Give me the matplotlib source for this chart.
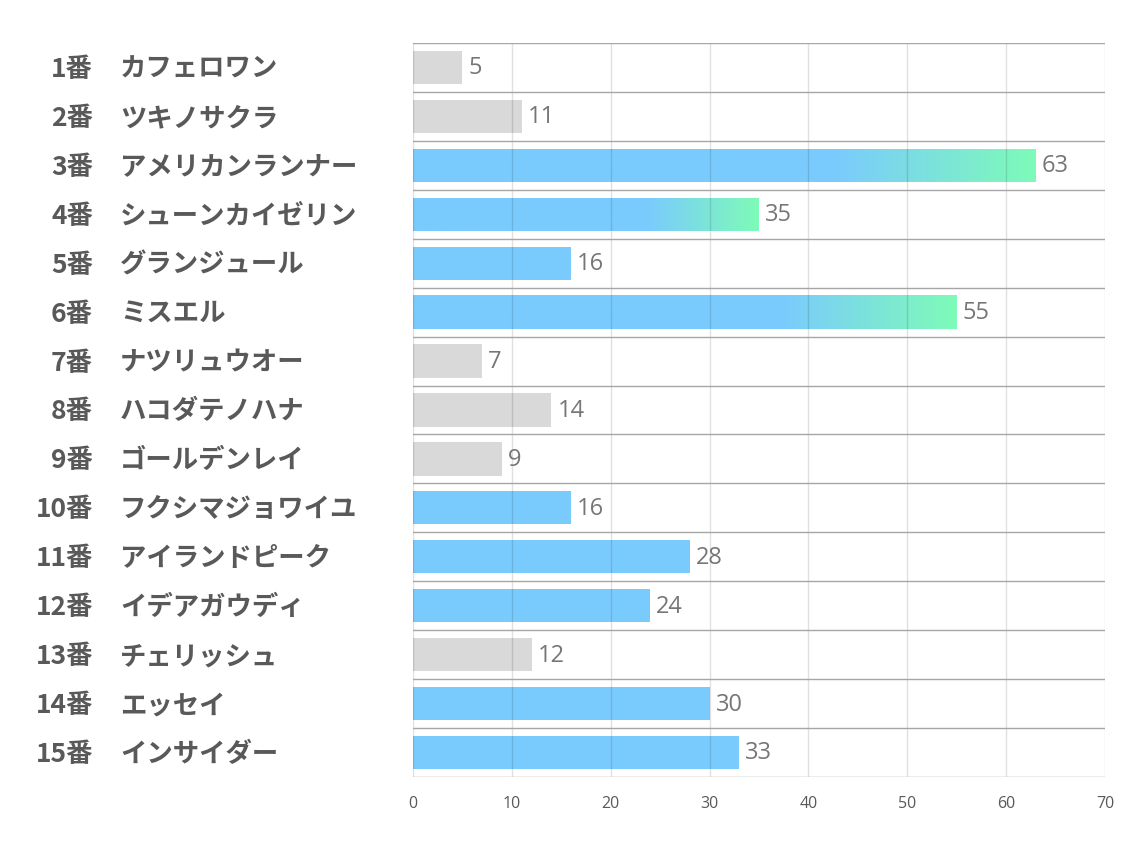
import matplotlib
matplotlib.use("Agg")
import matplotlib.pyplot as plt
import numpy as np
from matplotlib.colors import to_rgb

numbers = ["1番", "2番", "3番", "4番", "5番", "6番", "7番", "8番", "9番", "10番",
           "11番", "12番", "13番", "14番", "15番"]
names = ["カフェロワン", "ツキノサクラ", "アメリカンランナー", "シューンカイゼリン", "グランジュール",
         "ミスエル", "ナツリュウオー", "ハコダテノハナ", "ゴールデンレイ", "フクシマジョワイユ",
         "アイランドピーク", "イデアガウディ", "チェリッシュ", "エッセイ", "インサイダー"]
values = [5, 11, 63, 35, 16, 55, 7, 14, 9, 16, 28, 24, 12, 30, 33]
# bar style: 0 = gray, 1 = blue, 2 = blue->green gradient
styles = [0, 0, 2, 2, 1, 2, 0, 0, 0, 1, 1, 1, 0, 1, 1]
xticks = [0, 10, 20, 30, 40, 50, 60, 70]

plt.rcParams['font.family'] = ['Noto Sans CJK JP', 'DejaVu Sans']

fig = plt.figure(figsize=(11.34, 8.5), dpi=100)
ax = fig.add_axes([0.3642, 0.0859, 0.9744 - 0.3642, 0.9494 - 0.0859])

GRAY = "#d9d9d9"
BLUE = "#7acbfd"
GREEN = "#7efbb8"

# gradient image: blue for first 68%, then blend to green
t = np.linspace(0, 1, 512)
frac = np.clip((t - 0.68) / 0.32, 0, 1)
b = np.array(to_rgb(BLUE)); g = np.array(to_rgb(GREEN))
img = (b[None, :] * (1 - frac[:, None]) + g[None, :] * frac[:, None])[None, :, :]

n = len(values)
h = 0.68
for i, (v, s) in enumerate(zip(values, styles)):
    y = i
    col = GRAY if s == 0 else BLUE
    bars = ax.barh(y, v, height=h, color=col, zorder=1, lw=0)
    if s == 2:
        im = ax.imshow(img, extent=[0, v, y + h, y - h],
                       aspect='auto', zorder=1.5, interpolation='bilinear')
        im.set_clip_path(bars[0])
    ax.text(v + 0.6, y + 0.02, str(v), va='center', ha='left', fontsize=17,
            color='#767676', family=['Open Sans', 'DejaVu Sans'])

ax.set_xlim(0, 70)
ax.set_ylim(n - 0.5, -0.5)

# vertical grid
for xv in xticks:
    ax.axvline(xv, color='#000000', alpha=0.12, lw=1, zorder=2)
# row separators
for k in range(n + 1):
    ax.axhline(k - 0.5, color='#a6a6a6', lw=1, zorder=3)

for sp in ax.spines.values():
    sp.set_visible(False)
ax.set_xticks(xticks)
ax.set_xticklabels([str(t) for t in xticks], fontsize=11.5, color='#595959',
                   family=['Open Sans', 'DejaVu Sans'])
ax.tick_params(axis='x', length=0, pad=14)
ax.set_yticks([])

# category labels (two parts)
for i, (num, nm) in enumerate(zip(numbers, names)):
    yd = ax.transData.transform((0, i))[1] - 2
    yf = fig.transFigure.inverted().transform((0, yd))[1]
    fig.text(93 / 1134, yf, num, ha='right', va='center', fontsize=19,
             fontweight='bold', color='#595959')
    fig.text(120 / 1134, yf, nm, ha='left', va='center', fontsize=19,
             fontweight='bold', color='#595959')

fig.savefig("out.png", dpi=100, facecolor='white')
